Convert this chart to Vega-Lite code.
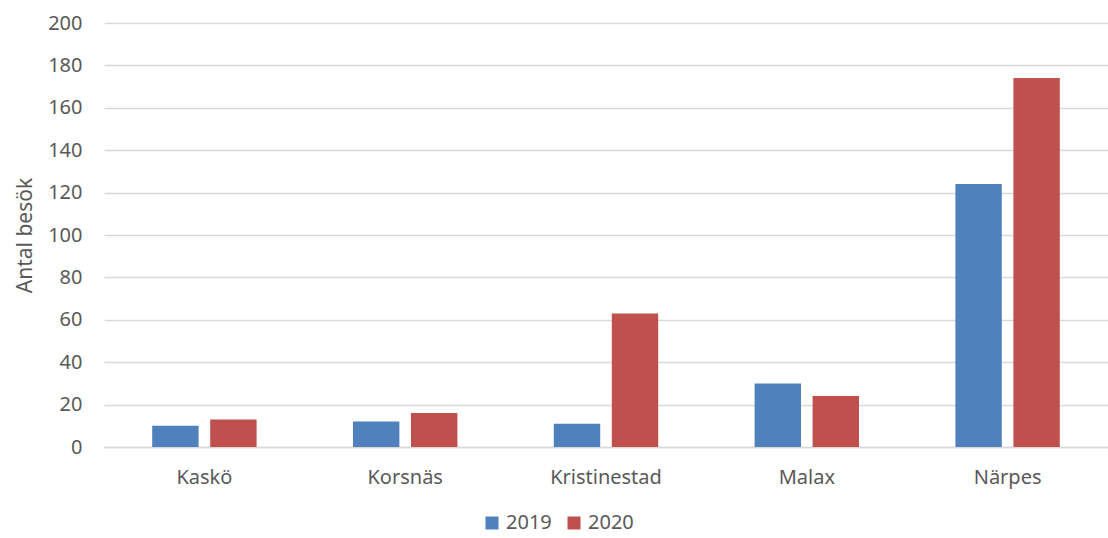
{
  "$schema": "https://vega.github.io/schema/vega-lite/v6.json",
  "width": 1004,
  "height": 424,
  "autosize": {"type": "none"},
  "padding": {"left": 104, "top": 23, "right": 0, "bottom": 91},
  "background": "white",
  "config": {
    "view": {"stroke": null},
    "font": "Noto Sans",
    "axis": {"labelColor": "#595959", "titleColor": "#595959", "labelFontSize": 20, "titleFontSize": 21, "titleFontWeight": "normal"},
    "legend": {"labelColor": "#595959", "labelFontSize": 20}
  },
  "data": {
    "values": [
      {"kommun": "Kaskö", "year": "2019", "value": 10},
      {"kommun": "Kaskö", "year": "2020", "value": 13},
      {"kommun": "Korsnäs", "year": "2019", "value": 12},
      {"kommun": "Korsnäs", "year": "2020", "value": 16},
      {"kommun": "Kristinestad", "year": "2019", "value": 11},
      {"kommun": "Kristinestad", "year": "2020", "value": 63},
      {"kommun": "Malax", "year": "2019", "value": 30},
      {"kommun": "Malax", "year": "2020", "value": 24},
      {"kommun": "Närpes", "year": "2019", "value": 124},
      {"kommun": "Närpes", "year": "2020", "value": 174}
    ]
  },
  "mark": {"type": "bar"},
  "encoding": {
    "x": {
      "field": "kommun", "type": "nominal", "sort": null,
      "scale": {"paddingInner": 0.48, "paddingOuter": 0.24},
      "axis": {"title": null, "labelAngle": 0, "ticks": false, "domainColor": "#d9d9d9", "domainWidth": 1.5, "labelPadding": 20}
    },
    "xOffset": {"field": "year", "type": "nominal", "scale": {"paddingInner": 0.2}},
    "y": {
      "field": "value", "type": "quantitative",
      "scale": {"domain": [0, 200]},
      "axis": {"title": "Antal besök", "values": [0,20,40,60,80,100,120,140,160,180,200], "labelOverlap": false, "domain": false, "ticks": false, "gridColor": "#d9d9d9", "gridWidth": 1.5, "labelPadding": 22, "titlePadding": 12}
    },
    "color": {
      "field": "year", "type": "nominal",
      "scale": {"domain": ["2019", "2020"], "range": ["#4f81bd", "#c0504d"]},
      "legend": {"title": null, "orient": "none", "direction": "horizontal", "legendX": 378, "legendY": 490, "symbolType": "square", "symbolSize": 169, "symbolStrokeWidth": 0, "columnPadding": 12, "labelOffset": 4}
    }
  }
}
